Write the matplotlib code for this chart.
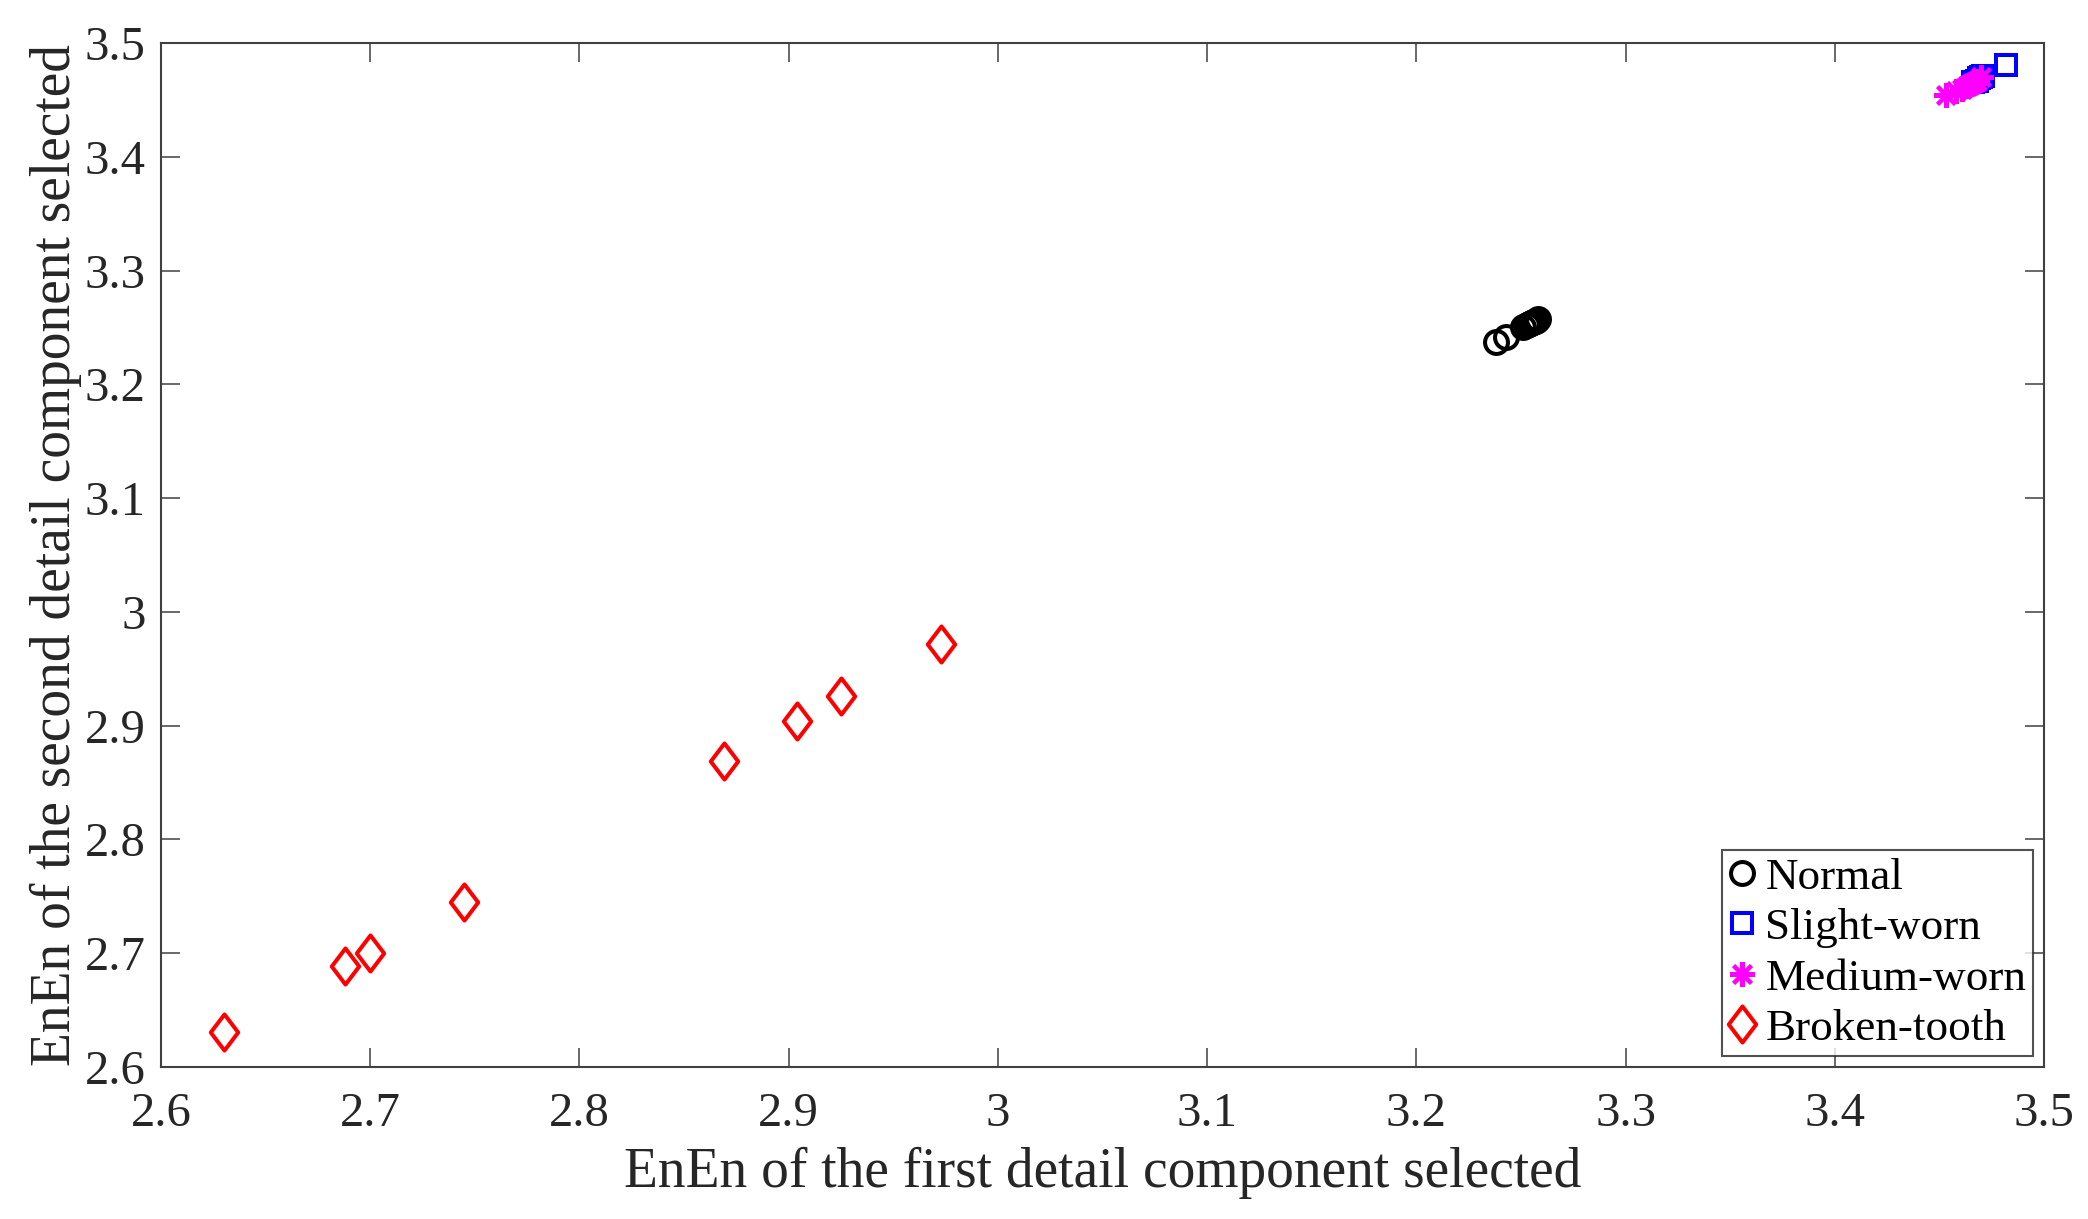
import matplotlib
matplotlib.use("Agg")
import matplotlib.pyplot as plt
from matplotlib.path import Path
from matplotlib.ticker import FuncFormatter, MultipleLocator

plt.rcParams['font.family'] = ['Liberation Serif', 'DejaVu Serif']

# Data
normal_x = [3.238, 3.243, 3.251, 3.253, 3.254, 3.255, 3.256, 3.257, 3.258]
normal_y = [3.237, 3.242, 3.250, 3.252, 3.253, 3.254, 3.255, 3.256, 3.257]
slight_x = [3.466, 3.468, 3.469, 3.470, 3.471, 3.482]
slight_y = [3.466, 3.467, 3.469, 3.470, 3.471, 3.481]
medium_x = [3.453, 3.458, 3.461, 3.463, 3.464, 3.465, 3.466, 3.467, 3.468, 3.470]
medium_y = [3.454, 3.458, 3.460, 3.462, 3.463, 3.464, 3.465, 3.466, 3.467, 3.470]
broken_x = [2.630, 2.688, 2.700, 2.745, 2.869, 2.904, 2.925, 2.973]
broken_y = [2.631, 2.689, 2.700, 2.745, 2.869, 2.904, 2.926, 2.972]
labels = ['Normal', 'Slight-worn', 'Medium-worn', 'Broken-tooth']

W, H = 2088, 1219
fig = plt.figure(figsize=(W / 100, H / 100), dpi=100)
ax = fig.add_axes([161 / W, 1 - 1067 / H, (2044 - 161) / W, (1067 - 43) / H])

diamond = Path([(0, 1), (0.76, 0), (0, -1), (-0.76, 0), (0, 1)],
               [Path.MOVETO, Path.LINETO, Path.LINETO, Path.LINETO, Path.CLOSEPOLY])

mew = 2.9
ax.plot(normal_x, normal_y, linestyle='none', marker='o', ms=16.5, mfc='none', mec='black', mew=mew, label=labels[0])
ax.plot(slight_x, slight_y, linestyle='none', marker='s', ms=15, mfc='none', mec='#0000ff', mew=mew, label=labels[1])
ax.plot(medium_x, medium_y, linestyle='none', marker=(8, 2, 0), ms=18, mfc='none', mec='#ff00ff', mew=mew, label=labels[2])
ax.plot(broken_x, broken_y, linestyle='none', marker=diamond, ms=26, mfc='none', mec='#ff0000', mew=mew, label=labels[3])

ax.set_xlim(2.6, 3.5)
ax.set_ylim(2.6, 3.5)
ax.xaxis.set_major_locator(MultipleLocator(0.1))
ax.yaxis.set_major_locator(MultipleLocator(0.1))
fmt = FuncFormatter(lambda v, p: '{:g}'.format(round(v, 2)))
ax.xaxis.set_major_formatter(fmt)
ax.yaxis.set_major_formatter(fmt)

axcol = '#404040'
for s in ax.spines.values():
    s.set_color(axcol)
    s.set_linewidth(1.5)
ax.tick_params(direction='in', length=14, width=1.1, colors=axcol, labelcolor='#262626',
               labelsize=35, top=True, right=True)
ax.tick_params(axis='x', pad=18)
ax.tick_params(axis='y', pad=11)

ax.set_xlabel('EnEn of the first detail component selected', fontsize=40, color='#262626', labelpad=8)
ax.set_ylabel('EnEn of the second detail component selected', fontsize=40, color='#262626', labelpad=2)

leg = ax.legend(loc='lower right', bbox_to_anchor=(0.9942, 0.0107), borderaxespad=0,
                fontsize=32.5, frameon=True, fancybox=False, handlelength=0.6,
                handletextpad=0.22, labelspacing=0.22, borderpad=0.15)
leg.get_frame().set_edgecolor('#262626')
leg.get_frame().set_linewidth(1.5)

fig.savefig('out.png', dpi=100)
